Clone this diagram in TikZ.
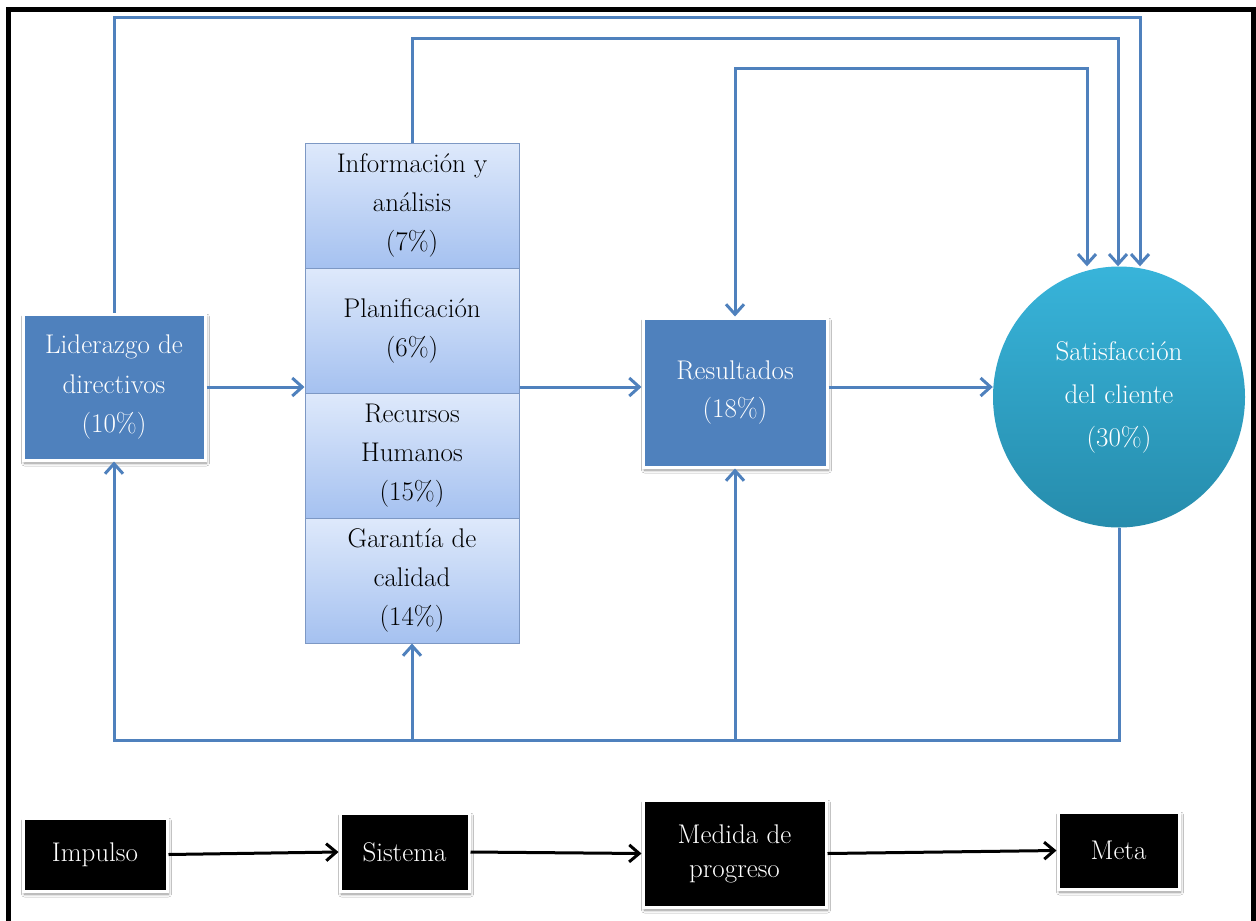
\documentclass[tikz,border=0pt]{standalone}
\usepackage{fontspec}
\usetikzlibrary{arrows.meta,shadows,shadows.blur,shapes.geometric}
\definecolor{offblue}{RGB}{79,129,189}
\definecolor{stacktop}{RGB}{222,233,251}
\definecolor{stackbot}{RGB}{165,193,240}
\definecolor{stackline}{RGB}{125,152,196}
\definecolor{cyantop}{RGB}{56,180,218}
\definecolor{cyanbot}{RGB}{38,140,172}

\begin{document}
\begin{tikzpicture}[x=1pt,y=-1pt,
  txt/.style={font=\fontsize{27}{39}\selectfont, align=center, inner sep=0pt},
  boxshadow/.style={blur shadow={shadow xshift=1.5pt, shadow yshift=-3pt,
    shadow blur steps=6, shadow blur radius=3pt, shadow opacity=45}},
  bluebox/.style={txt, rectangle, fill=offblue, draw=white, line width=3pt,
    text=white, boxshadow},
  stackbox/.style={txt, rectangle, top color=stacktop, bottom color=stackbot,
    draw=stackline, line width=1pt, minimum width=214pt, minimum height=125pt},
  blackbox/.style={txt, font=\fontsize{27}{34}\selectfont, rectangle, fill=black,
    draw=white, line width=3pt, text=white, boxshadow},
  fb/.style={draw=offblue, line width=3pt, -{Straight Barb[length=10pt,width=18pt]}},
  flow/.style={draw=black, line width=3pt, -{Straight Barb[length=10pt,width=17pt]}}
]
\useasboundingbox (0,0) rectangle (1256,921);
\fill[white] (0,0) rectangle (1256,921);

% outer frame
\draw[black, line width=5pt] (8.5,930) -- (8.5,9) -- (1253,9) -- (1253,930);

% main nodes
\node[bluebox, minimum width=182pt, minimum height=146pt] (lid) at (114,387)
  {Liderazgo de\\directivos\\(10\%)};
\node[stackbox] (info) at (412,205.5) {Información y\\análisis\\(7\%)};
\node[stackbox] (plan) at (412,330.5) {Planificación\\(6\%)};
\node[stackbox] (rec)  at (412,455.5) {Recursos\\Humanos\\(15\%)};
\node[stackbox] (gar)  at (412,580.5) {Garantía de\\calidad\\(14\%)};
\node[bluebox, minimum width=184pt, minimum height=149pt] (res) at (735,392.5)
  {Resultados\\(18\%)};
\node[txt, font=\fontsize{27}{43}\selectfont, ellipse, text=white,
  top color=cyantop, bottom color=cyanbot,
  minimum width=252pt, minimum height=261pt] (sat) at (1119,397)
  {Satisfacción\\del cliente\\(30\%)};

% bend points of the loops
\coordinate (k1) at (1140,17);
\coordinate (k2) at (1118,38);
\coordinate (k3) at (1087,68);
\coordinate (b)  at (0,740);

% forward chain
\draw[fb] (lid.east) -- (lid.east -| plan.west);
\draw[fb] (lid.east -| plan.east) -- (lid.east -| res.west);
\draw[fb] (res.east |- lid.east) -- (lid.east -| sat.west);

% loops over the top
\draw[fb] (lid.north) |- (k1) -- (k1 |- sat.north);
\draw[fb] (info.north) |- (k2) -- (k2 |- sat.north);
\draw[fb, {Straight Barb[length=10pt,width=18pt]}-{Straight Barb[length=10pt,width=18pt]}]
  (res.north) |- (k3) -- (k3 |- sat.north);

% feedback along the bottom
\draw[fb] (sat.south) |- (b -| lid.south) -- (lid.south);
\draw[fb] (b -| gar.south) -- (gar.south);
\draw[fb] (b -| res.south) -- (res.south);

% bottom row
\node[blackbox, minimum width=144pt, minimum height=73pt] (imp) at (95,854.5) {Impulso};
\node[blackbox, minimum width=129pt, minimum height=78pt] (sis) at (404.5,852) {Sistema};
\node[blackbox, minimum width=183pt, minimum height=107pt] (med) at (734.5,853.5)
  {Medida de\\progreso};
\node[blackbox, minimum width=121pt, minimum height=77pt] (met) at (1118.5,850.5) {Meta};

\draw[flow] (imp.east) -- (sis.west);
\draw[flow] (sis.east) -- (med.west);
\draw[flow] (med.east) -- (met.west);
\end{tikzpicture}
\end{document}
